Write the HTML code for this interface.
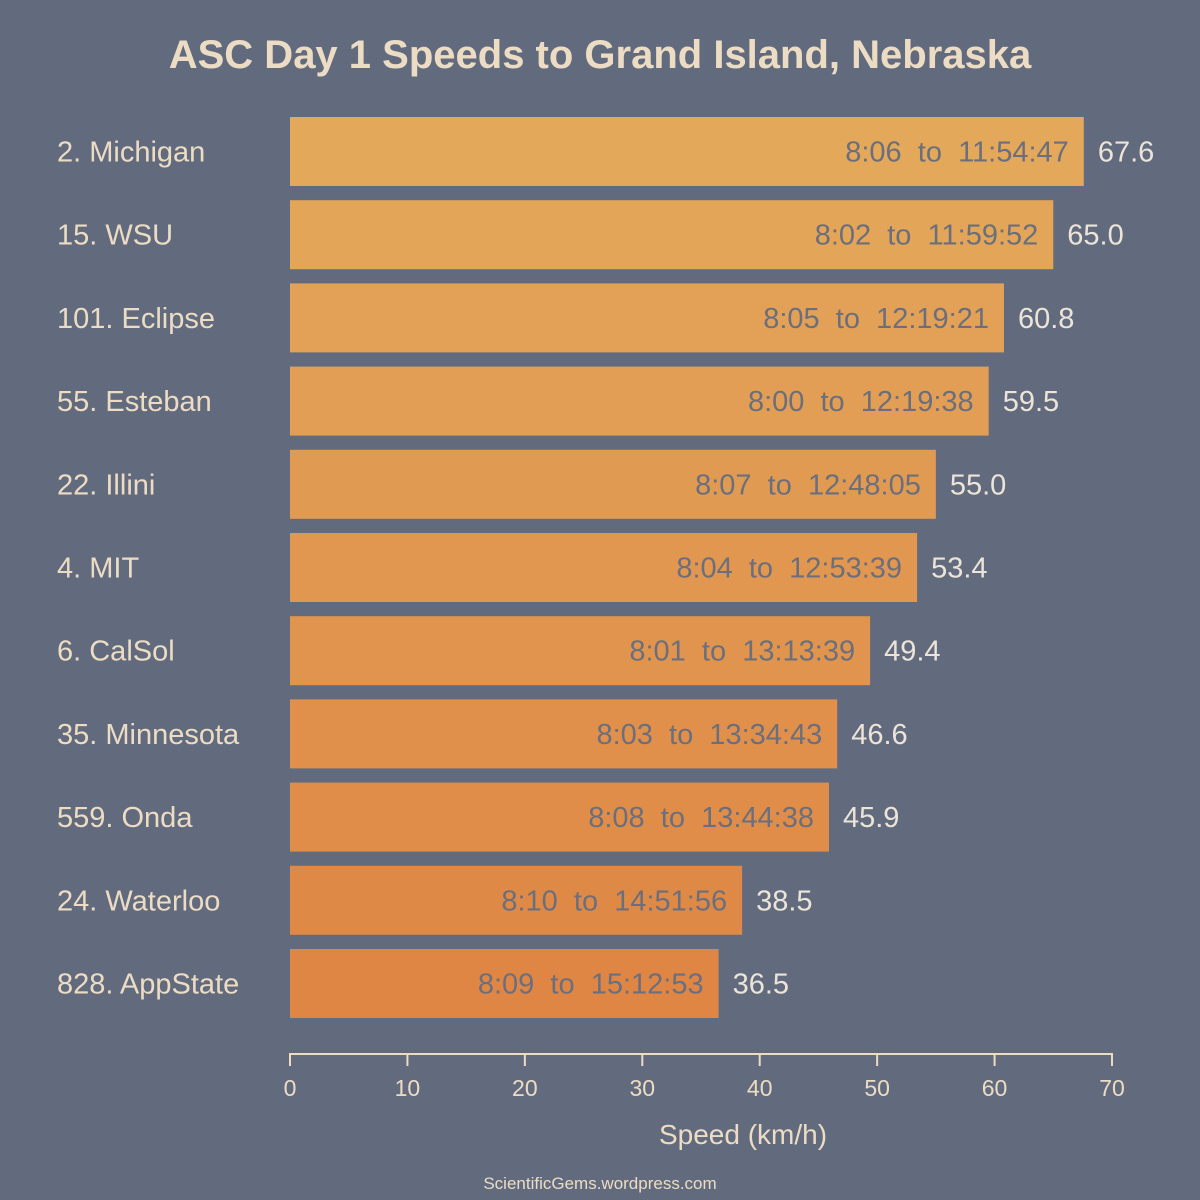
<!DOCTYPE html>
<html><head><meta charset="utf-8"><style>
html,body{margin:0;padding:0;background:#626b7e;}
svg{display:block;font-family:"Liberation Sans",Arial,sans-serif;}
</style></head><body>
<svg id="chart" width="1200" height="1200" viewBox="0 0 1200 1200" xmlns="http://www.w3.org/2000/svg">
<rect x="0" y="0" width="1200" height="1200" fill="#626b7e"/>
<text x="600" y="68" text-anchor="middle" font-size="40" font-weight="bold" fill="#ecdcc4">ASC Day 1 Speeds to Grand Island, Nebraska</text>
<g id="bars"></g>
<g id="axis"></g>
<text x="743" y="1144" text-anchor="middle" font-size="28" fill="#ecdcc4">Speed (km/h)</text>
<text x="600" y="1189" text-anchor="middle" font-size="17" fill="#ecdcc4">ScientificGems.wordpress.com</text>
</svg>
<script>
const teams = ["2. Michigan","15. WSU","101. Eclipse","55. Esteban","22. Illini","4. MIT","6. CalSol","35. Minnesota","559. Onda","24. Waterloo","828. AppState"];
const speeds = [67.6,65.0,60.8,59.5,55.0,53.4,49.4,46.6,45.9,38.5,36.5];
const startTimes = ["8:06","8:02","8:05","8:00","8:07","8:04","8:01","8:03","8:08","8:10","8:09"];
const endTimes = ["11:54:47","11:59:52","12:19:21","12:19:38","12:48:05","12:53:39","13:13:39","13:34:43","13:44:38","14:51:56","15:12:53"];
const ticks = [0,10,20,30,40,50,60,70];

const NS="http://www.w3.org/2000/svg";
const x0=290, x1=1112, xmax=70;
function xs(v){return x0+(v/xmax)*(x1-x0);}
const top0=117, pitch=83.2, bh=69;
function ys(i){return top0+i*pitch;}
function lerp(a,b,t){return Math.round(a+(b-a)*t);}
function barColor(i,n){const t=n>1?i/(n-1):0;return `rgb(${lerp(227,223,t)},${lerp(168,134,t)},${lerp(90,69,t)})`;}
const bars=document.getElementById('bars');
function mk(tag,attrs,parent){const e=document.createElementNS(NS,tag);for(const k in attrs)e.setAttribute(k,attrs[k]);parent.appendChild(e);return e;}
teams.forEach((t,i)=>{
  const y=ys(i), w=xs(speeds[i])-x0;
  const lab=mk('text',{x:57,y:y+bh/2+10,'font-size':29,fill:'#ecdcc4'},bars);
  
  
  lab.textContent=t;
  const r=mk('rect',{x:x0,y:y,width:w,height:bh,fill:barColor(i,teams.length)},bars);
  
  
  const it=mk('text',{x:xs(speeds[i])-15,y:y+bh/2+10,'font-size':29,fill:'#6b6f7d','text-anchor':'end','xml:space':'preserve',style:'white-space:pre'},bars);
  
  
  it.textContent=startTimes[i]+"  to  "+endTimes[i];
  const vt=mk('text',{x:xs(speeds[i])+14,y:y+bh/2+10,'font-size':29,fill:'#ece4d8'},bars);
  
  
  vt.textContent=speeds[i].toFixed(1);
});
const ax=document.getElementById('axis');
const al=mk('line',{x1:xs(ticks[0]),x2:xs(ticks[ticks.length-1]),y1:1054,y2:1054,stroke:'#ecdcc4','stroke-width':2},ax);


ticks.forEach(v=>{
  const tl=mk('line',{x1:xs(v),x2:xs(v),y1:1053,y2:1066,stroke:'#ecdcc4','stroke-width':2},ax);
  
  
  const tt=mk('text',{x:xs(v),y:1096,'font-size':23,fill:'#ecdcc4','text-anchor':'middle'},ax);
  
  
  tt.textContent=v;
});
</script>
</body></html>
